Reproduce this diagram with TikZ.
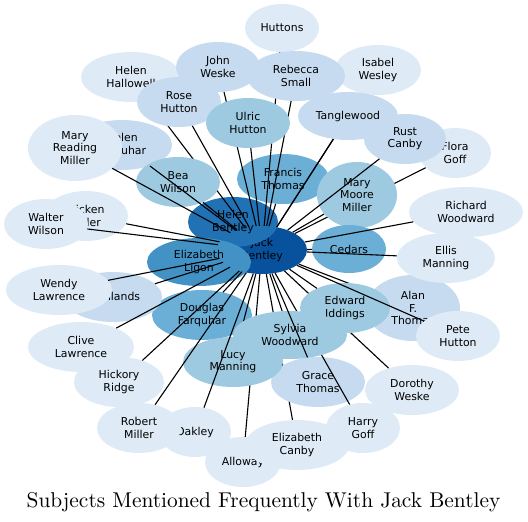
\documentclass[tikz,border=0pt]{standalone}
\usepackage{fontspec}
\newfontfamily\labelfont{DejaVu Sans}
\newfontfamily\titlefont{lmroman10-regular}[Extension=.otf]
\usetikzlibrary{shapes.geometric}
\definecolor{BlueA}{HTML}{08519C}
\definecolor{BlueB}{HTML}{2171B5}
\definecolor{BlueC}{HTML}{4292C6}
\definecolor{BlueD}{HTML}{6BAED6}
\definecolor{BlueE}{HTML}{9ECAE1}
\definecolor{BlueF}{HTML}{C6DBEF}
\definecolor{BlueG}{HTML}{DEEBF7}

\begin{document}
\begin{tikzpicture}[x=1pt,y=-1pt]
\tikzset{NameStyle/.style = {ellipse, inner sep=0pt, align=center, text=black,
    font=\labelfont\fontsize{10.9}{12.3}\selectfont},
  EllSize/.style 2 args = {minimum width=#1, minimum height=#2},
  EdgeStyle/.style = {line width=1.1pt, black}
}
\useasboundingbox (0,0) rectangle (528,522);

    % Hub nodes
    \node[NameStyle, fill=BlueA, EllSize={90}{48}] (jack) at (262,250) {Jack\\Bentley};
    \node[NameStyle, fill=BlueB, EllSize={90}{50}] (helenb) at (233,222) {Helen\\Bentley};
    \node[NameStyle, fill=BlueC, EllSize={104}{48}] (ligon) at (199,262) {Elizabeth\\Ligon};
    \node[NameStyle, fill=BlueD, EllSize={92}{50}] (francis) at (283,179) {Francis\\Thomas};
    \node[NameStyle, fill=BlueD, EllSize={100}{50}] (douglas) at (202,315) {Douglas\\Farquhar};

    % Outer names, drawn back to front
    \node[NameStyle, fill=BlueG, EllSize={72}{50}] (flora) at (455,153) {Flora\\Goff};
    \draw[EdgeStyle] (jack) -- (flora);
    \node[NameStyle, fill=BlueG, EllSize={74}{48}] (huttons) at (282,28) {Huttons};
    \draw[EdgeStyle] (jack) -- (huttons);
    \node[NameStyle, fill=BlueG, EllSize={100}{50}] (hallowell) at (131,77) {Helen\\Hallowell};
    \draw[EdgeStyle] (jack) -- (hallowell);
    \node[NameStyle, fill=BlueF, EllSize={100}{50}] (farquhar) at (122,145) {Helen\\Farquhar};
    \node[NameStyle, fill=BlueG, EllSize={84}{50}] (dicken) at (86,216) {Dicken\\Miller};
    \draw[EdgeStyle] (jack) -- (dicken);
    \node[NameStyle, fill=BlueF, EllSize={98}{50}] (highlands) at (113,297) {Highlands};
    \draw[EdgeStyle] (jack) -- (highlands);
    \node[NameStyle, fill=BlueG, EllSize={114}{50}] (richard) at (466,212) {Richard\\Woodward};
    \node[NameStyle, fill=BlueF, EllSize={94}{66}] (alan) at (413,308) {Alan\\F.\\Thomas};
    \draw[EdgeStyle] (jack) -- (alan);
    \node[NameStyle, fill=BlueG, EllSize={76}{50}] (alloway) at (243,462) {Alloway};
    \draw[EdgeStyle] (jack) -- (alloway);
    \node[NameStyle, fill=BlueG, EllSize={104}{50}] (canby) at (297,445) {Elizabeth\\Canby};
    \draw[EdgeStyle] (jack) -- (canby);
    \node[NameStyle, fill=BlueG, EllSize={94}{50}] (dorothy) at (412,390) {Dorothy\\Weske};
    \draw[EdgeStyle] (jack) -- (dorothy);
    \node[NameStyle, fill=BlueF, EllSize={94}{50}] (grace) at (318,382) {Grace\\Thomas};
    \node[NameStyle, fill=BlueG, EllSize={74}{50}] (harry) at (363,428) {Harry\\Goff};
    \draw[EdgeStyle] (jack) -- (harry);
    \node[NameStyle, fill=BlueE, EllSize={100}{50}] (lucy) at (233,362) {Lucy\\Manning};
    \draw[EdgeStyle] (jack) -- (lucy);
    \node[NameStyle, fill=BlueG, EllSize={72}{50}] (oakley) at (195,432) {Oakley};
    \draw[EdgeStyle] (jack) -- (oakley);
    \node[NameStyle, fill=BlueG, EllSize={84}{50}] (robert) at (139,428) {Robert\\Miller};
    \draw[EdgeStyle] (jack) -- (robert);
    \node[NameStyle, fill=BlueG, EllSize={106}{50}] (clive) at (81,347) {Clive\\Lawrence};
    \draw[EdgeStyle] (jack) -- (clive);
    \node[NameStyle, fill=BlueG, EllSize={90}{50}] (hickory) at (119,382) {Hickory\\Ridge};
    \draw[EdgeStyle] (jack) -- (hickory);
    \node[NameStyle, fill=BlueG, EllSize={84}{50}] (walter) at (46,224) {Walter\\Wilson};
    \draw[EdgeStyle] (jack) -- (walter);
    \node[NameStyle, fill=BlueG, EllSize={106}{50}] (wendy) at (59,290) {Wendy\\Lawrence};
    \draw[EdgeStyle] (jack) -- (wendy);
    \node[NameStyle, fill=BlueE, EllSize={90}{50}] (edward) at (345,308) {Edward\\Iddings};
    \draw[EdgeStyle] (jack) -- (edward);
    \node[NameStyle, fill=BlueE, EllSize={114}{48}] (sylvia) at (290,335) {Sylvia\\Woodward};
    \draw[EdgeStyle] (jack) -- (sylvia);
    \draw[EdgeStyle] (jack) -- (grace);
    \node[NameStyle, fill=BlueG, EllSize={84}{50}] (pete) at (458,336) {Pete\\Hutton};
    \draw[EdgeStyle] (jack) -- (pete);
    \node[NameStyle, fill=BlueE, EllSize={84}{50}] (bea) at (178,182) {Bea\\Wilson};
    \draw[EdgeStyle] (jack) -- (bea);
    \node[NameStyle, fill=BlueG, EllSize={94}{66}] (mrmiller) at (75,148) {Mary\\Reading\\Miller};
    \draw[EdgeStyle] (jack) -- (mrmiller);
    \draw[EdgeStyle] (jack) -- (farquhar);
    \node[NameStyle, fill=BlueE, EllSize={80}{66}] (marymoore) at (357,195) {Mary\\Moore\\Miller};
    \draw[EdgeStyle] (jack) -- (marymoore);
    \draw[EdgeStyle] (jack) -- (francis);
    \node[NameStyle, fill=BlueD, EllSize={74}{48}] (cedars) at (349,249) {Cedars};
    \draw[EdgeStyle] (jack) -- (cedars);
    \draw[EdgeStyle] (jack) -- (richard);
    \node[NameStyle, fill=BlueG, EllSize={98}{50}] (ellis) at (446,258) {Ellis\\Manning};
    \draw[EdgeStyle] (jack) -- (ellis);
    \draw[EdgeStyle] (jack) -- (douglas);
    \node[NameStyle, fill=BlueF, EllSize={82}{50}] (rust) at (405,139) {Rust\\Canby};
    \draw[EdgeStyle] (jack) -- (rust);
    \node[NameStyle, fill=BlueG, EllSize={86}{50}] (isabel) at (378,70) {Isabel\\Wesley};
    \draw[EdgeStyle] (jack) -- (isabel);
    \node[NameStyle, fill=BlueF, EllSize={100}{48}] (tanglewood) at (348,116) {Tanglewood};
    \draw[EdgeStyle] (jack) -- (tanglewood);
    \node[NameStyle, fill=BlueF, EllSize={98}{50}] (rebecca) at (296,76) {Rebecca\\Small};
    \draw[EdgeStyle] (jack) -- (rebecca);
    \node[NameStyle, fill=BlueF, EllSize={84}{50}] (rose) at (179,102) {Rose\\Hutton};
    \draw[EdgeStyle] (jack) -- (rose);
    \node[NameStyle, fill=BlueF, EllSize={84}{50}] (john) at (218,67) {John\\Weske};
    \draw[EdgeStyle] (jack) -- (john);
    \node[NameStyle, fill=BlueE, EllSize={84}{50}] (ulric) at (248,123) {Ulric\\Hutton};
    \draw[EdgeStyle] (jack) -- (ulric);

    % Title
    \node[anchor=base, font=\titlefont\fontsize{21.4}{25}\selectfont] (title) at (263.5,507)
        {Subjects Mentioned Frequently With Jack Bentley};
\end{tikzpicture}
\end{document}
